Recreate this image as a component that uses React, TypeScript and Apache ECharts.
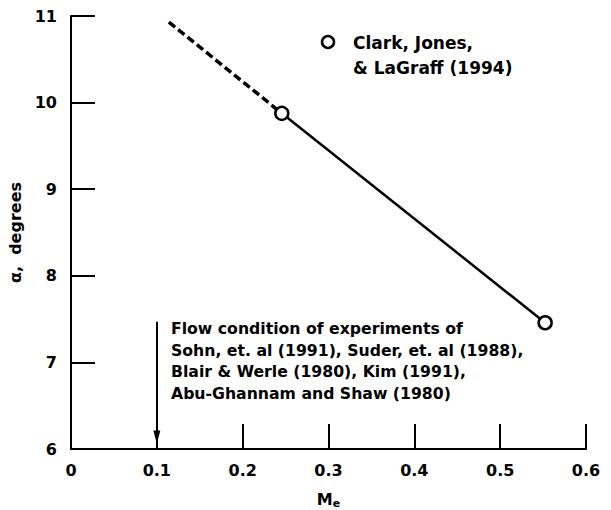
import React, { useEffect, useRef } from "react";
import * as echarts from "echarts";

const xTicks = [0, 0.1, 0.2, 0.3, 0.4, 0.5, 0.6];
const yTicks = [6, 7, 8, 9, 10, 11];
const extrapolated: [number, number][] = [
  [0.114, 10.93],
  [0.2456, 9.876],
];
const measured: [number, number][] = [
  [0.2456, 9.876],
  [0.5524, 7.458],
];
const arrowFrom: [number, number] = [0.1, 7.47];
const arrowTo: [number, number] = [0.1, 6.14];
const legendLines = ["Clark, Jones,", "& LaGraff (1994)"];
const noteLines = [
  "Flow condition of experiments of",
  "Sohn, et. al (1991), Suder, et. al (1988),",
  "Blair & Werle (1980), Kim (1991),",
  "Abu-Ghannam and Shaw (1980)",
];

const FONT = "'DejaVu Sans', 'Liberation Sans', Arial, sans-serif";

export default function App() {
  const ref = useRef<HTMLDivElement>(null);
  useEffect(() => {
    if (!ref.current) return;
    const chart = echarts.init(ref.current, null, { renderer: "svg" });
    chart.setOption({
      animation: false,
      backgroundColor: "#fff",
      textStyle: { fontFamily: FONT },
      grid: { left: 71, right: 25, top: 16, bottom: 61, containLabel: false, outerBoundsMode: "none" },
      xAxis: {
        type: "value",
        min: xTicks[0],
        max: xTicks[xTicks.length - 1],
        interval: 0.1,
        name: "{a|M}{b|e}",
        nameLocation: "middle",
        nameGap: 40,
        nameTextStyle: {
          rich: {
            a: { fontSize: 16, fontWeight: "bold", color: "#000", fontFamily: FONT },
            b: { fontSize: 11, fontWeight: "bold", color: "#000", fontFamily: FONT, padding: [9, 0, 0, 0] },
          },
        },
        axisLine: { lineStyle: { color: "#000", width: 2 } },
        axisTick: { inside: true, length: 25, lineStyle: { color: "#000", width: 2 } },
        axisLabel: {
          color: "#000",
          fontSize: 16,
          fontWeight: "bold",
          margin: 13,
          formatter: (v: number) => String(Math.round(v * 10) / 10),
        },
        splitLine: { show: false },
      },
      yAxis: {
        type: "value",
        min: yTicks[0],
        max: yTicks[yTicks.length - 1],
        interval: 1,
        name: "α,  degrees",
        nameLocation: "middle",
        nameGap: 47,
        nameTextStyle: { fontSize: 16, fontWeight: "bold", color: "#000", fontFamily: FONT },
        axisLine: { show: true, lineStyle: { color: "#000", width: 2 } },
        axisTick: { show: true, inside: true, length: 24, lineStyle: { color: "#000", width: 2 } },
        axisLabel: { color: "#000", fontSize: 16, fontWeight: "bold", margin: 14 },
        splitLine: { show: false },
      },
      series: [
        {
          type: "line",
          data: extrapolated,
          showSymbol: false,
          symbol: "none",
          lineStyle: { color: "#000", width: 3.5, type: [8, 4] },
          z: 2,
        },
        {
          type: "line",
          data: measured,
          symbol: "circle",
          symbolSize: 13,
          itemStyle: { color: "#fff", borderColor: "#000", borderWidth: 2.5 },
          lineStyle: { color: "#000", width: 2.5 },
          z: 3,
          markLine: {
            silent: true,
            symbol: ["none", "triangle"],
            symbolSize: [7, 13],
            symbolRotate: 180,
            label: { show: false },
            lineStyle: { color: "#000", width: 2, type: "solid" },
            data: [[{ coord: arrowFrom }, { coord: arrowTo }]],
          },
        },
      ],
      graphic: [
        {
          type: "circle",
          shape: { cx: 328, cy: 42, r: 6 },
          style: { fill: "#fff", stroke: "#000", lineWidth: 2.5 },
        },
        {
          type: "text",
          left: 353,
          top: 30,
          style: {
            text: legendLines.join("\n"),
            font: `bold 17px ${FONT}`,
            fill: "#000",
            lineHeight: 25,
          },
        },
        {
          type: "text",
          left: 171,
          top: 318,
          style: {
            text: noteLines.join("\n"),
            font: `bold 15.7px ${FONT}`,
            fill: "#000",
            lineHeight: 21.5,
          },
        },
      ],
    });
    return () => chart.dispose();
  }, []);
  return (
    <div
      ref={ref}
      style={{ position: "absolute", left: 0, top: 0, width: 611, height: 510 }}
    />
  );
}
